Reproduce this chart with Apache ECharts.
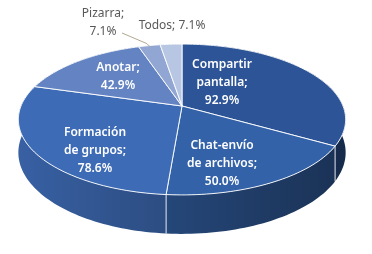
<!DOCTYPE html>
<html><head><meta charset="utf-8">
<script src="https://cdn.jsdelivr.net/npm/echarts@6.0.0/dist/echarts.min.js"></script>
<style>html,body{margin:0;padding:0;background:#fff}#c{width:372px;height:254px}</style>
</head><body><div id="c"></div>
<script>
// ---- data ----
const categoryLines = [['Compartir', 'pantalla'], ['Chat-envío', 'de archivos'], ['Formación', 'de grupos'], ['Anotar'], ['Pizarra'], ['Todos']];
const values = [92.9, 50.0, 78.6, 42.9, 7.1, 7.1];
const sameLine = [false, false, false, false, false, true];

// ---- styles / layout ----
const topColors = ['#2c5496', '#3462a8', '#3e6bb5', '#6383c2', '#91a6d2', '#b7c6e3'];
const labelColors = ['#ffffff', '#ffffff', '#ffffff', '#ffffff', '#595959', '#595959'];
const labelAt = [[222, 83], [222, 164], [95, 151], [118, 77], [103, 23], [172, 26]];
const CX = 182, CY = 106, RX = 161, RY = 73, K = 0.179, H = 32;

function proj(theta, r) {
  const t = theta * Math.PI / 180;
  const u = Math.sin(t) * r, v = -Math.cos(t) * r;
  const s = 1 / (1 - K * v);
  return { x: CX + RX * u * s, y: CY + RY * v * s, s: s, u: u, v: v };
}
function shade(hex, f) {
  const n = parseInt(hex.slice(1), 16);
  const r = Math.min(255, Math.round(((n >> 16) & 255) * f)), g = Math.min(255, Math.round(((n >> 8) & 255) * f)), b = Math.min(255, Math.round((n & 255) * f));
  return 'rgb(' + r + ',' + g + ',' + b + ')';
}
const total = values.reduce((a, b) => a + b, 0);

function renderItem(params, api) {
  const i = params.dataIndex;
  let start = 0;
  for (let j = 0; j < i; j++) start += values[j];
  const a0 = start / total * 360, a1 = (start + api.value(0)) / total * 360;
  const N = Math.max(4, Math.ceil((a1 - a0) / 1.5));
  const color = topColors[i];
  const children = [];
  const topPts = [[CX, CY]];
  const arc = [];
  for (let n = 0; n <= N; n++) { const p = proj(a0 + (a1 - a0) * n / N, 1); arc.push(p); topPts.push([p.x, p.y]); }
  children.push({ type: 'polygon', shape: { points: topPts }, style: { fill: color, stroke: 'rgba(255,255,255,0.9)', lineWidth: 1 }, z2: 100 });
  // side wall
  const sidePts = arc.map(p => [p.x, p.y]).concat(arc.slice().reverse().map(p => [p.x, p.y + H * p.s]));
  const stops = [];
  for (let q = 0; q <= 10; q++) {
    const u = -1 + q / 5;
    stops.push({ offset: q / 10, color: shade(color, 0.70 - 0.2 * u) });
  }
  const mid = proj((a0 + a1) / 2, 1);
  children.push({ type: 'polygon', shape: { points: sidePts },
    style: { fill: { type: 'linear', x: CX - RX * 1.02, y: 0, x2: CX + RX * 1.02, y2: 0, colorStops: stops, global: true } },
    z2: 20 + mid.v * 10 });
  const S = proj(a0, 1);
  if (S.v > K) {
    children.push({ type: 'line', shape: { x1: S.x, y1: S.y, x2: S.x, y2: S.y + H * S.s }, style: { stroke: 'rgba(255,255,255,0.85)', lineWidth: 1 }, z2: 60 });
  }
  const name = categoryLines[i].join('\n');
  const txt = name + ';' + (sameLine[i] ? ' ' : '\n') + api.value(0).toFixed(1) + '%';
  const weight = labelColors[i] === '#ffffff' ? '600 ' : '';
  children.push({ type: 'text', x: labelAt[i][0], y: labelAt[i][1], style: { text: txt, fill: labelColors[i], font: weight + '12px "Noto Sans"', align: 'center', verticalAlign: 'middle', lineHeight: 18 }, z2: 200 });
  if (i === 4) {
    const M = proj((a0 + a1) / 2, 0.98);
    children.push({ type: 'polyline', shape: { points: [[labelAt[i][0] + 19, labelAt[i][1] + 10], [M.x - 3, M.y - 3], [M.x, M.y]] }, style: { stroke: '#b0a890', lineWidth: 1, fill: null }, z2: 210 });
  }
  return { type: 'group', children: children };
}

const chart = echarts.init(document.getElementById('c'));
chart.setOption({
  animation: false,
  series: [{ type: 'custom', coordinateSystem: 'none', renderItem: renderItem, data: values.map(v => [v]) }]
});
</script></body></html>
